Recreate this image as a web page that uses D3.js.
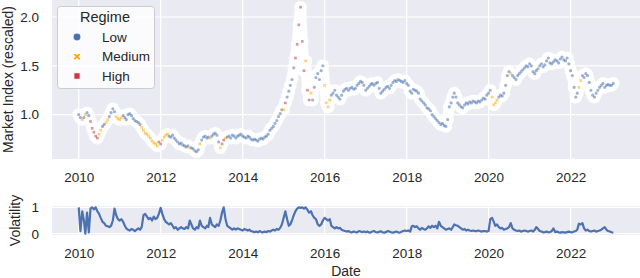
<!DOCTYPE html>
<html><head><meta charset="utf-8">
<script src="https://cdn.jsdelivr.net/npm/d3@7"></script>
<style>body{margin:0;background:#fff}svg{display:block}</style>
</head><body><script>
// Semi-monthly observations (1st and 16th of each month), Jan 2010 .. Jan 2023
const price2010=[1.00,0.97,0.95,0.97,1.00,1.02,0.99,0.93,0.86,0.82,0.78,0.76,0.80,0.84,0.88,0.90,0.92,0.95,0.98,1.02,1.06,1.03,0.98,0.96];
const price2011=[0.95,0.97,0.99,0.97,0.95,1.00,1.01,0.99,0.96,0.94,0.93,0.92,0.90,0.87,0.84,0.81,0.80,0.78,0.76,0.73,0.71,0.70,0.68,0.72];
const price2012=[0.70,0.74,0.77,0.79,0.80,0.78,0.77,0.79,0.76,0.74,0.72,0.70,0.71,0.69,0.68,0.67,0.68,0.66,0.66,0.65,0.63,0.62,0.64,0.70];
const price2013=[0.74,0.77,0.78,0.76,0.77,0.76,0.78,0.80,0.81,0.79,0.72,0.66,0.70,0.74,0.76,0.77,0.78,0.76,0.79,0.78,0.76,0.78,0.79,0.80];
const price2014=[0.78,0.77,0.76,0.78,0.77,0.75,0.74,0.75,0.74,0.73,0.75,0.76,0.75,0.77,0.78,0.80,0.84,0.86,0.88,0.91,0.94,0.98,1.01,1.05];
const price2015=[1.05,1.12,1.18,1.24,1.30,1.36,1.48,1.58,1.72,1.92,2.10,1.75,1.45,1.55,1.25,1.15,1.22,1.15,1.28,1.38,1.42,1.36,1.45,1.50];
const price2016=[1.30,1.12,1.08,1.15,1.20,1.22,1.25,1.20,1.18,1.16,1.20,1.24,1.26,1.27,1.25,1.27,1.28,1.26,1.27,1.30,1.32,1.34,1.33,1.30];
const price2017=[1.25,1.27,1.29,1.31,1.32,1.30,1.32,1.33,1.27,1.22,1.24,1.26,1.28,1.29,1.27,1.30,1.33,1.35,1.34,1.36,1.35,1.34,1.33,1.35];
const price2018=[1.32,1.30,1.24,1.22,1.26,1.25,1.24,1.22,1.16,1.14,1.12,1.10,1.07,1.06,1.04,1.00,0.98,0.96,0.94,0.92,0.90,0.91,0.89,0.88];
const price2019=[0.95,1.08,1.12,1.18,1.22,1.18,1.12,1.10,1.08,1.07,1.10,1.12,1.11,1.13,1.12,1.14,1.13,1.12,1.14,1.13,1.15,1.17,1.16,1.20];
const price2020=[1.22,1.25,1.18,1.10,1.12,1.15,1.18,1.20,1.19,1.22,1.30,1.40,1.44,1.42,1.40,1.38,1.36,1.40,1.42,1.44,1.46,1.48,1.50,1.49];
const price2021=[1.52,1.50,1.44,1.42,1.45,1.47,1.50,1.52,1.49,1.51,1.55,1.58,1.53,1.52,1.54,1.56,1.55,1.53,1.57,1.59,1.56,1.55,1.58,1.52];
const price2022=[1.45,1.40,1.28,1.18,1.22,1.28,1.35,1.40,1.38,1.42,1.40,1.33,1.25,1.20,1.18,1.22,1.25,1.28,1.30,1.32,1.28,1.30,1.31,1.30];
const price2023=[1.30,1.32];

const vol2010=[1.0,0.1,0.85,0.5,0.0,0.8,0.05,0.95,1.0,0.92,1.0,0.85,0.75,0.6,0.45,0.4,0.3,0.28,0.25,0.3,0.5,0.95,0.7,0.55];
const vol2011=[0.5,0.55,0.45,0.3,0.2,0.15,0.12,0.18,0.15,0.1,0.15,0.2,0.15,0.25,0.7,0.75,0.65,0.55,0.6,0.5,0.65,0.55,0.6,0.75];
const vol2012=[0.98,0.75,0.55,0.45,0.4,0.35,0.4,0.3,0.2,0.25,0.15,0.2,0.25,0.2,0.18,0.25,0.2,0.5,0.35,0.2,0.15,0.25,0.2,0.5];
const vol2013=[0.3,0.25,0.2,0.3,0.25,0.6,0.35,0.3,0.25,0.35,0.3,0.5,0.8,1.0,0.55,0.3,0.25,0.2,0.15,0.2,0.15,0.2,0.18,0.15];
const vol2014=[0.12,0.18,0.15,0.12,0.15,0.1,0.08,0.05,0.08,0.05,0.1,0.06,0.05,0.08,0.06,0.1,0.08,0.12,0.15,0.12,0.18,0.15,0.22,0.35];
const vol2015=[0.6,0.85,0.55,0.3,0.35,0.5,0.7,0.85,0.95,1.0,0.98,1.0,0.95,1.0,0.9,0.8,0.85,0.7,0.6,0.55,0.35,0.3,0.35,0.5];
const vol2016=[0.6,0.55,0.5,0.55,0.3,0.25,0.2,0.25,0.2,0.22,0.15,0.12,0.1,0.08,0.1,0.06,0.05,0.08,0.06,0.05,0.1,0.08,0.06,0.08];
const vol2017=[0.05,0.08,0.04,0.05,0.08,0.1,0.06,0.05,0.07,0.09,0.05,0.04,0.06,0.1,0.08,0.05,0.04,0.06,0.08,0.05,0.04,0.07,0.1,0.12];
const vol2018=[0.1,0.12,0.08,0.28,0.3,0.25,0.28,0.2,0.15,0.22,0.18,0.15,0.2,0.28,0.22,0.3,0.25,0.3,0.2,0.45,0.3,0.25,0.2,0.15];
const vol2019=[0.18,0.2,0.15,0.25,0.35,0.32,0.3,0.25,0.2,0.15,0.18,0.12,0.15,0.12,0.1,0.12,0.1,0.1,0.12,0.1,0.08,0.1,0.1,0.08];
const vol2020=[0.1,0.55,0.6,0.45,0.3,0.35,0.25,0.2,0.22,0.15,0.18,0.2,0.25,0.4,0.2,0.15,0.12,0.1,0.12,0.08,0.1,0.12,0.1,0.08];
const vol2021=[0.1,0.12,0.08,0.15,0.25,0.18,0.1,0.08,0.05,0.06,0.08,0.05,0.06,0.1,0.2,0.06,0.08,0.05,0.04,0.06,0.05,0.04,0.06,0.08];
const vol2022=[0.06,0.05,0.08,0.1,0.15,0.38,0.35,0.4,0.2,0.12,0.15,0.1,0.08,0.1,0.12,0.08,0.1,0.12,0.15,0.2,0.25,0.15,0.1,0.08];
const vol2023=[0.05,0.04];

// Regime codes per observation: L = Low, M = Medium, H = High
const regime2010="LLMLMLLHHHHHMMLLMMLLLLMM";
const regime2011="MMLLLLLLLLLLLMMMMMMMMMMH";
const regime2012="HMMMMLLLLLLLLLLLLMLLLLLM";
const regime2013="LLLLLMLLLLLMHHMLLLLLLLLL";
const regime2014="LLLLLLLLLLLLLLLLLLLLLLLL";
const regime2015="MHLLLLLHHHHHHMHHMLLLLLLL";
const regime2016="MMMMLLLLLLLLLLLLLLLLLLLL";
const regime2017="LLLLLLLLLLLLLLLLLLLLLLLL";
const regime2018="LLLLLLLLLLLLLLLLLLLLLLLL";
const regime2019="LLLLLLLLLLLLLLLLLLLLLLLL";
const regime2020="LLMMMMLLLLLLLMLLLLLLLLLL";
const regime2021="LLLLLLLLLLLLLLLLLLLLLLLL";
const regime2022="LLLLLMMLLLLLLLLLLLLLLLLL";
const regime2023="LL";

const regimeNames=["Low","Medium","High"];
const regimeCodes=["L","M","H"];
const regimeColors=["#4C72B0","#FFA500","#C8383C"];
const priceTicks=[1.0,1.5,2.0];
const volTicks=[0,1];

const price=[].concat(price2010,price2011,price2012,price2013,price2014,price2015,price2016,price2017,price2018,price2019,price2020,price2021,price2022,price2023);
const vol=[].concat(vol2010,vol2011,vol2012,vol2013,vol2014,vol2015,vol2016,vol2017,vol2018,vol2019,vol2020,vol2021,vol2022,vol2023);
const regime=(regime2010+regime2011+regime2012+regime2013+regime2014+regime2015+regime2016+regime2017+regime2018+regime2019+regime2020+regime2021+regime2022+regime2023).split("");

const data=price.map((p,i)=>({date:new Date(2010,Math.floor(i/2),(i%2)?16:1),price:p,vol:vol[i],regime:regime[i]}));

const W=640,H=278;
const FONT="'Liberation Sans', Arial, Helvetica, sans-serif";
const TXT="#262626";
const BG="#EAEAF2";
const svg=d3.select("body").append("svg").attr("width",W).attr("height",H).style("font-family",FONT);

const L=52,R=640;
const top1=0,bot1=159,top2=206,bot2=235;

const t0=data[0].date,t1=data[data.length-1].date,span=t1-t0;
const x=d3.scaleTime().domain([new Date(+t0-0.05*span),new Date(+t1+0.05*span)]).range([L,R]);
const pMin=d3.min(price),pMax=d3.max(price),pSpan=pMax-pMin;
const y1=d3.scaleLinear().domain([pMin-0.05*pSpan,pMax+0.05*pSpan]).range([bot1,top1]);
const y2=d3.scaleLinear().domain([-0.05,1.05]).range([bot2,top2]);

const xTicks=x.ticks(d3.timeYear.every(2));

function panel(yTop,yBot,yScale,yTickVals,yFmt){
  const g=svg.append("g");
  g.append("rect").attr("x",L).attr("y",yTop).attr("width",R-L).attr("height",yBot-yTop).attr("fill",BG);
  g.selectAll("line.vx").data(xTicks).join("line").attr("x1",d=>x(d)).attr("x2",d=>x(d)).attr("y1",yTop).attr("y2",yBot).attr("stroke","#fff").attr("stroke-width",1.2);
  g.selectAll("line.hy").data(yTickVals).join("line").attr("x1",L).attr("x2",R).attr("y1",d=>yScale(d)).attr("y2",d=>yScale(d)).attr("stroke","#fff").attr("stroke-width",1.2);
  const ya=d3.axisLeft(yScale).tickValues(yTickVals).tickFormat(yFmt).tickSize(0).tickPadding(13);
  const ga=svg.append("g").attr("transform",`translate(${L},0)`).call(ya);
  ga.select(".domain").remove();
  ga.selectAll("text").attr("fill",TXT).style("font-size","13.5px").style("font-family",FONT);
  const xa=d3.axisBottom(x).tickValues(xTicks).tickFormat(d3.timeFormat("%Y")).tickSize(0).tickPadding(13);
  const gx=svg.append("g").attr("transform",`translate(0,${yBot})`).call(xa);
  gx.select(".domain").remove();
  gx.selectAll("text").attr("fill",TXT).style("font-size","13.5px").style("font-family",FONT);
  return g;
}

panel(top1,bot1,y1,priceTicks,d3.format(".1f"));
panel(top2,bot2,y2,volTicks,d3.format("d"));

const sym={
  L:d3.symbol().type(d3.symbolCircle),
  M:d3.symbol().type(d3.symbolCross),
  H:d3.symbol().type(d3.symbolSquare)
};
const colorOf=c=>regimeColors[regimeCodes.indexOf(c)];

svg.append("clipPath").attr("id","clipTop").append("rect").attr("x",L).attr("y",top1).attr("width",R-L).attr("height",bot1-top1);
const pts=svg.append("g").attr("clip-path","url(#clipTop)");
// white marker edges, merged into a band
pts.append("path").datum(data)
  .attr("d",d3.line().x(d=>x(d.date)).y(d=>y1(d.price)))
  .attr("fill","none").attr("stroke","#fff").attr("stroke-width",11).attr("stroke-linejoin","round").attr("stroke-linecap","round");
pts.append("g").selectAll("path").data(data).join("path")
  .attr("transform",d=>`translate(${x(d.date)},${y1(d.price)})`)
  .attr("d",d3.symbol().type(d3.symbolCircle).size(125)())
  .attr("fill","#fff");
// colored cores
pts.append("g").selectAll("path").data(data).join("path")
  .attr("transform",d=>`translate(${x(d.date)},${y1(d.price)})${d.regime==="M"?" rotate(45)":""}`)
  .attr("d",d=>sym[d.regime].size(d.regime==="L"?8:7)())
  .attr("fill",d=>colorOf(d.regime))
  .attr("opacity",0.55);

// volatility line
svg.append("path").datum(data)
  .attr("d",d3.line().x(d=>x(d.date)).y(d=>y2(d.vol)))
  .attr("fill","none").attr("stroke","#4C72B0").attr("stroke-width",2.2).attr("stroke-linejoin","round");

// axis titles
svg.append("text").attr("transform",`translate(13,${(top1+bot1)/2}) rotate(-90)`).attr("text-anchor","middle")
  .attr("fill",TXT).style("font-size","14px").text("Market Index (rescaled)");
svg.append("text").attr("transform",`translate(20,${(top2+bot2)/2}) rotate(-90)`).attr("text-anchor","middle")
  .attr("fill",TXT).style("font-size","14px").text("Volatility");
svg.append("text").attr("x",(L+R)/2).attr("y",276).attr("text-anchor","middle")
  .attr("fill",TXT).style("font-size","14px").text("Date");

// legend
const lg=svg.append("g");
lg.append("rect").attr("x",57.5).attr("y",6.5).attr("width",97).attr("height",82).attr("rx",3)
  .attr("fill","#fff").attr("fill-opacity",0.8).attr("stroke","#cccccc").attr("stroke-width",1);
lg.append("text").attr("x",105).attr("y",22).attr("text-anchor","middle").attr("fill",TXT).style("font-size","14.5px").text("Regime");
regimeNames.forEach((nm,i)=>{
  const cy=37+i*19.5;
  const c=regimeCodes[i];
  lg.append("path").attr("transform",`translate(77,${cy})${c==="M"?" rotate(45)":""}`)
    .attr("d",sym[c].size(c==="L"?52:c==="M"?46:42)())
    .attr("fill",regimeColors[i]).attr("stroke","#fff").attr("stroke-width",1.2);
  lg.append("text").attr("x",102).attr("y",cy+4.8).attr("fill",TXT).style("font-size","13.5px").text(nm);
});
</script></body></html>
